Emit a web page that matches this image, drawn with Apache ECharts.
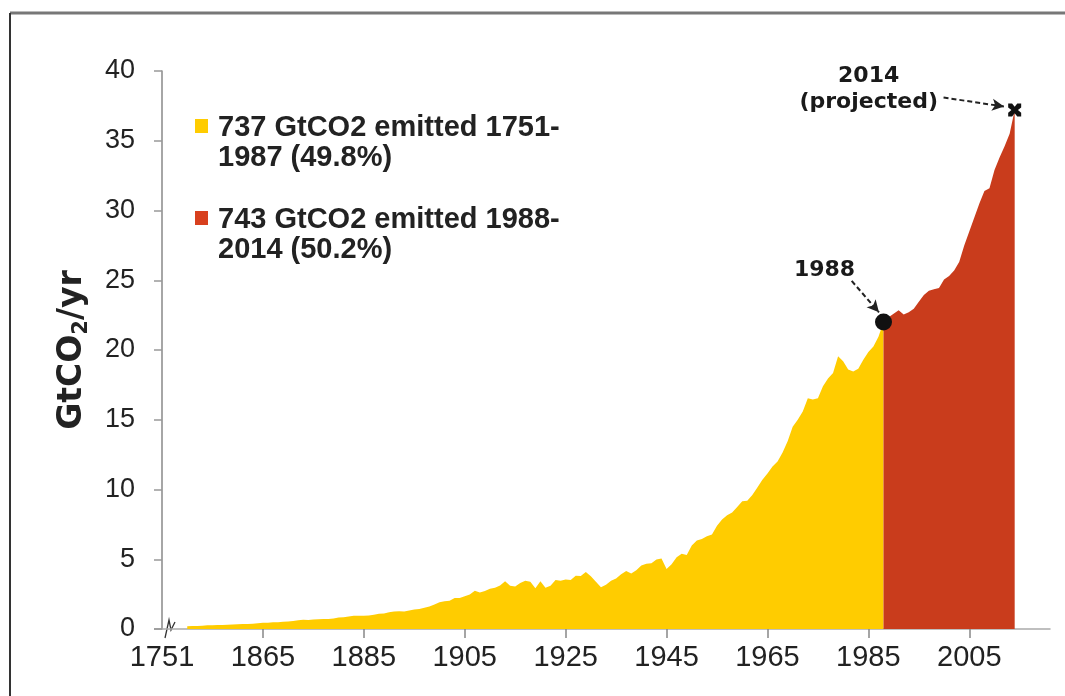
<!DOCTYPE html>
<html><head><meta charset="utf-8">
<script src="https://cdn.jsdelivr.net/npm/echarts@6/dist/echarts.min.js"></script>
<style>html,body{margin:0;padding:0;background:#fff}#c{width:1065px;height:696px}</style>
</head><body><div id="c"></div>
<script>
// ---------- DATA ----------
const earlyStartYear = 1850; // yellow: 1850..1988
const earlyValues = [
 0.20,0.21,0.22,0.23,0.26,0.27,0.29,0.29,0.30,0.32,
 0.34,0.36,0.36,0.38,0.41,0.44,0.45,0.48,0.49,0.52,
 0.54,0.58,0.63,0.67,0.64,0.68,0.70,0.71,0.72,0.76,
 0.82,0.85,0.89,0.95,0.95,0.95,0.96,1.02,1.10,1.12,
 1.20,1.26,1.28,1.26,1.32,1.40,1.44,1.52,1.62,1.76,
 1.92,1.99,2.03,2.22,2.23,2.34,2.48,2.75,2.62,2.72,
 2.88,2.95,3.12,3.42,3.10,3.05,3.30,3.46,3.38,2.92,
 3.42,2.95,3.10,3.52,3.46,3.55,3.52,3.82,3.80,4.08,
 3.78,3.38,3.00,3.18,3.45,3.62,3.92,4.15,3.98,4.22,
 4.55,4.68,4.72,4.98,5.05,4.30,4.65,5.15,5.40,5.30,
 5.98,6.35,6.45,6.65,6.78,7.40,7.85,8.15,8.35,8.75,
 9.15,9.20,9.60,10.15,10.70,11.15,11.65,12.00,12.65,13.45,
 14.50,15.00,15.60,16.55,16.45,16.55,17.40,17.95,18.35,19.55,
 19.20,18.60,18.45,18.65,19.30,19.85,20.25,20.95,22.00
];
const lateStartYear = 1988; // red: 1988..2014
const lateValues = [
 22.00,22.35,22.60,22.85,22.55,22.70,22.95,23.45,23.95,24.25,
 24.35,24.45,25.05,25.30,25.70,26.30,27.50,28.50,29.50,30.50,
 31.40,31.60,32.90,33.80,34.60,35.50,37.20
];
const xLabelValues = [1845,1865,1885,1905,1925,1945,1965,1985,2005];
const xLabelTexts  = ['1751','1865','1885','1905','1925','1945','1965','1985','2005'];
const xTickValues  = [1865,1885,1905,1925,1945,1965,1985,2005];
const legendLabels = ['737 GtCO2 emitted 1751-\n1987 (49.8%)','743 GtCO2 emitted 1988-\n2014 (50.2%)'];
const markerYears  = [1988, 2014];
const markerTexts  = ['1988', '2014\n(projected)'];

// ---------- BUILD ----------
const yellow = '#FFCC00', red = '#C93C1C';
const earlyData = earlyValues.map((v,i)=>[earlyStartYear+i, v]);
const lateData  = lateValues.map((v,i)=>[lateStartYear+i, v]);
const valueAt = y => y < lateStartYear ? earlyValues[y-earlyStartYear] : lateValues[y-lateStartYear];
const labelMap = {}; xLabelValues.forEach((v,i)=>labelMap[v]=xLabelTexts[i]);

const chart = echarts.init(document.getElementById('c'));
const tickFont = {fontFamily:'Liberation Sans, Arial, sans-serif', color:'#222'};
const bold = 'DejaVu Sans, sans-serif';

chart.setOption({
  animation:false,
  backgroundColor:'#fff',
  grid:{left:162,right:15,top:71,bottom:67},
  xAxis:{
    type:'value', min:1845, max:2021, interval:20,
    axisLine:{show:true,lineStyle:{color:'#aaa',width:1.5}},
    axisTick:{show:true,length:9,inside:false,lineStyle:{color:'#888',width:1.5},customValues:xTickValues},
    axisLabel:Object.assign({fontSize:29,margin:14,customValues:xLabelValues,
      formatter:v=>labelMap[v]||''},tickFont),
    splitLine:{show:false}
  },
  yAxis:{
    type:'value', min:0, max:40, interval:5,
    name:'GtCO{s|2}/yr', nameLocation:'middle', nameRotate:90, nameGap:70,
    nameTextStyle:{fontFamily:bold,fontWeight:'bold',fontSize:33,color:'#222',lineHeight:40,
      rich:{s:{fontFamily:bold,fontWeight:'bold',fontSize:21,lineHeight:21,verticalAlign:'bottom',color:'#222'}}},
    axisLine:{show:true,lineStyle:{color:'#888',width:1.5}},
    axisTick:{show:true,length:8,lineStyle:{color:'#999',width:1.5}},
    axisLabel:Object.assign({fontSize:27,margin:27},tickFont),
    splitLine:{show:false}
  },
  series:[
    {type:'line',name:legendLabels[0],data:earlyData,showSymbol:false,symbol:'none',
     lineStyle:{width:0},areaStyle:{color:yellow,opacity:1},z:2},
    {type:'line',name:legendLabels[1],data:lateData,showSymbol:false,symbol:'none',
     lineStyle:{width:0},areaStyle:{color:red,opacity:1},z:2},
    {type:'scatter',z:5,silent:true,
     data:[
       {value:[markerYears[0],valueAt(markerYears[0])],symbol:'circle',symbolSize:17,
        label:{show:true,formatter:markerTexts[0],position:'inside',offset:[-59,-52]}},
       {value:[markerYears[1],valueAt(markerYears[1])],
        symbol:'path://M0,0 L3,0 L5,2.5 L7,0 L10,0 L10,3 L7.5,5 L10,7 L10,10 L7,10 L5,7.5 L3,10 L0,10 L0,7 L2.5,5 L0,3 Z',
        symbolSize:13,
        label:{show:true,formatter:markerTexts[1],position:'inside',offset:[-146,-21],lineHeight:26}}
     ],
     itemStyle:{color:'#111',opacity:1},
     label:{fontFamily:bold,fontWeight:'bold',fontSize:22,color:'#1a1a1a',opacity:1,align:'center',verticalAlign:'middle'},
     markLine:{silent:true,symbol:['none','arrow'],symbolSize:[9,12],
       lineStyle:{type:[5,3],color:'#222',width:2,opacity:1},label:{show:false},
       data:[
         [{coord:[1981.7,24.95]},{coord:[1987.1,22.7]}],
         [{coord:[1999.9,38.1]},{coord:[2011.9,37.45]}]
       ]}
    }
  ]
});

// legend + decorations
const legendGraphics = legendLabels.map((t,i)=>({
  type:'group', left:195, top:113+i*92,
  children:[
    {type:'rect',shape:{x:0,y:0,width:13,height:14},style:{fill:i===0?yellow:'#D8401E'}},
    {type:'text',x:23,y:-6,style:{text:t,fontFamily:'Liberation Sans, Arial, sans-serif',fontWeight:'bold',
      fontSize:29,lineHeight:30,fill:'#222'}}
  ]
}));
const o = chart.convertToPixel({gridIndex:0},[1845,0]);
chart.setOption({graphic:[
  ...legendGraphics,
  {type:'line',shape:{x1:10,y1:13,x2:1065,y2:13},style:{stroke:'#777',lineWidth:3}},
  {type:'line',shape:{x1:10,y1:13,x2:10,y2:696},style:{stroke:'#333',lineWidth:2}},
  {type:'rect',shape:{x:o[0]+1,y:o[1]-12,width:14,height:22},style:{fill:'#fff'}},
  {type:'polyline',shape:{points:[[o[0]+3,o[1]+9],[o[0]+7,o[1]-9],[o[0]+9,o[1]+1],[o[0]+13,o[1]-7]]},
   style:{stroke:'#333',lineWidth:1.3,fill:null}},
  {type:'line',shape:{x1:o[0]-8,y1:o[1],x2:o[0],y2:o[1]},style:{stroke:'#999',lineWidth:1.5}}
]});
</script></body></html>
